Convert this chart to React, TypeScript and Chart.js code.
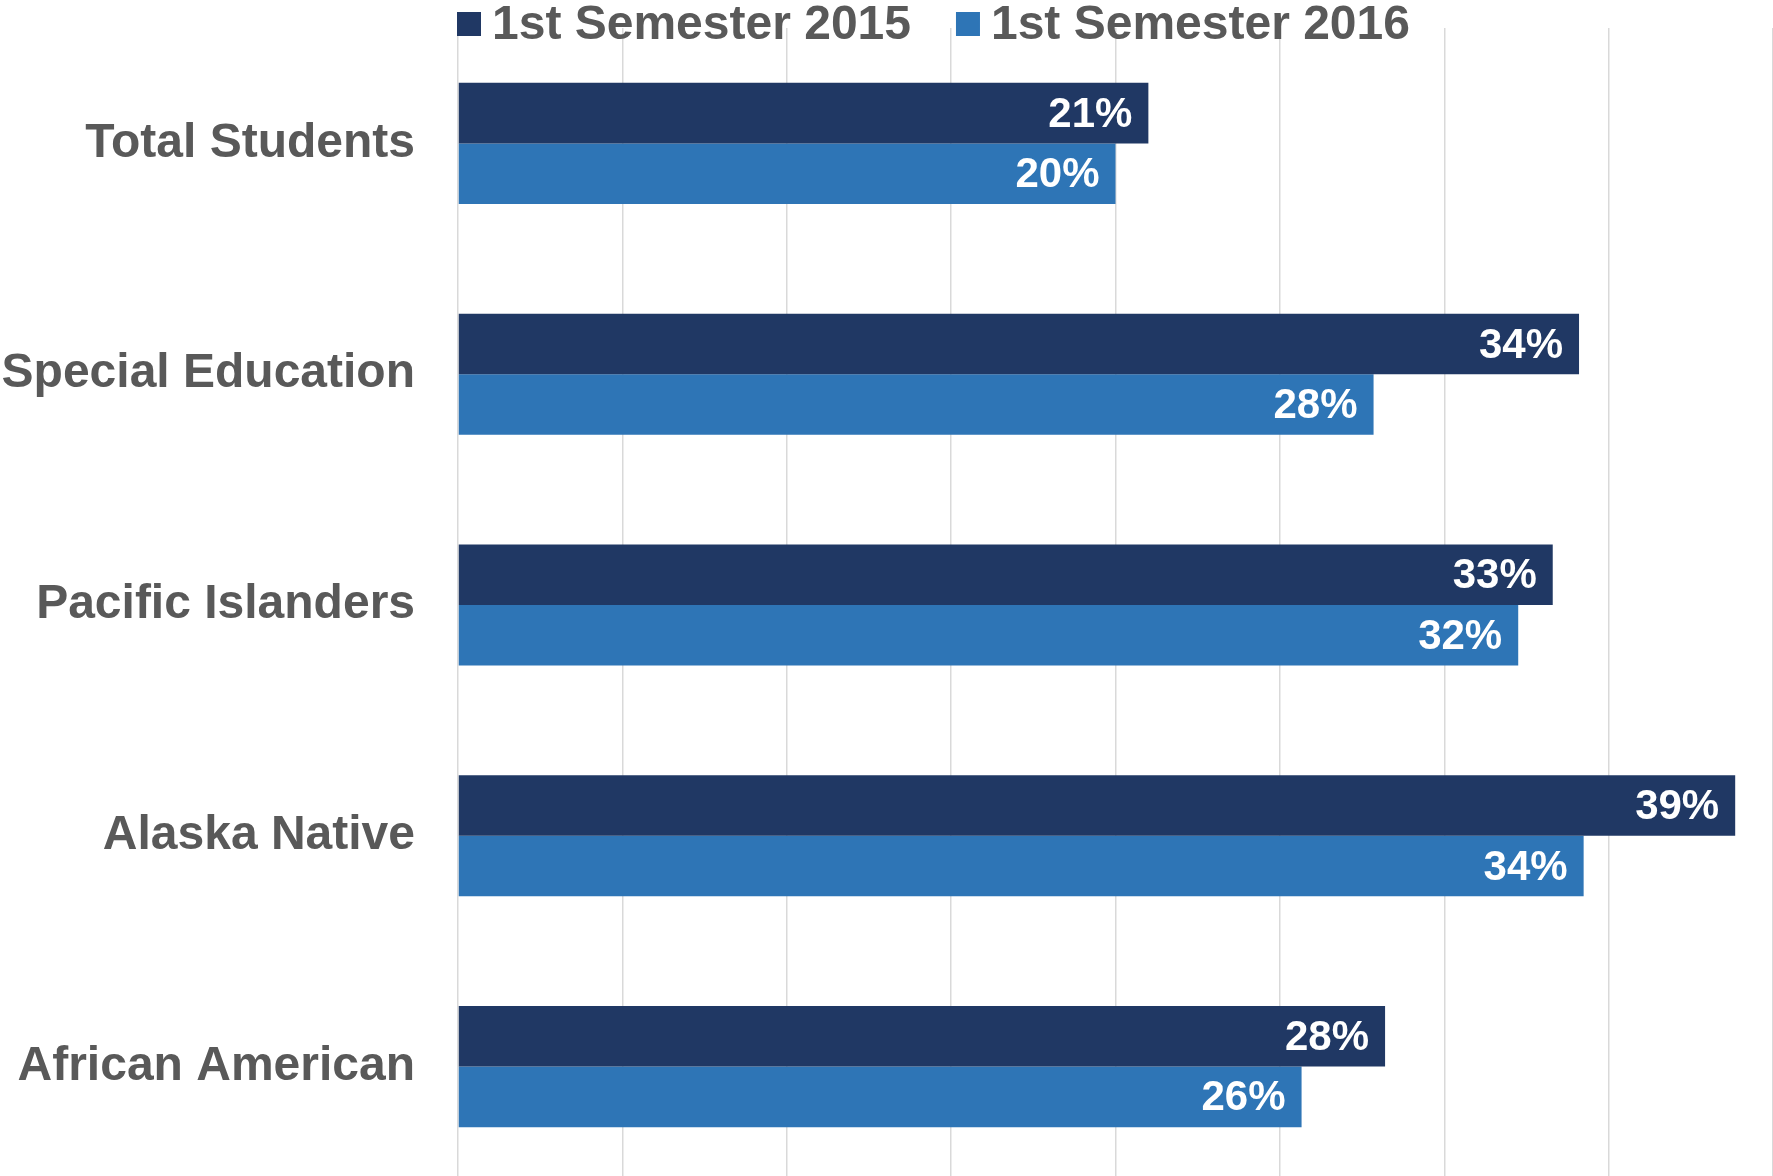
import React, { useEffect, useRef } from "react";
import { Chart, registerables } from "chart.js";

Chart.register(...registerables);

const categories = ["Total Students", "Special Education", "Pacific Islanders", "Alaska Native", "African American"];
const series2015 = [21.0, 34.1, 33.3, 38.85, 28.2];
const series2016 = [20.0, 27.85, 32.25, 34.24, 25.66];
const seriesLabels = ["1st Semester 2015", "1st Semester 2016"];
const xTicks = [0, 5, 10, 15, 20, 25, 30, 35, 40];

const FONT = '"Liberation Sans", Arial, sans-serif';
const GREY = "#595959";
const COLORS = ["#203864", "#2E75B6"];

const valueLabelPlugin = {
  id: "valueLabels",
  afterDatasetsDraw(chart: any) {
    const ctx = chart.ctx;
    ctx.save();
    ctx.font = `bold 42px ${FONT}`;
    ctx.fillStyle = "#ffffff";
    ctx.textAlign = "right";
    ctx.textBaseline = "middle";
    chart.data.datasets.forEach((ds: any, di: number) => {
      const meta = chart.getDatasetMeta(di);
      meta.data.forEach((el: any, i: number) => {
        const v = ds.data[i];
        ctx.fillText(`${Math.round(v)}%`, el.x - 16, el.y + 2);
      });
    });
    ctx.restore();
  },
};

const legendPlugin = {
  id: "customLegend",
  afterDraw(chart: any) {
    const ctx = chart.ctx;
    ctx.save();
    ctx.font = `bold 48px ${FONT}`;
    ctx.textBaseline = "alphabetic";
    ctx.textAlign = "left";
    let x = chart.chartArea.left - 1;
    chart.data.datasets.forEach((ds: any) => {
      ctx.fillStyle = ds.backgroundColor;
      ctx.fillRect(x, 12, 24, 24);
      ctx.fillStyle = GREY;
      ctx.fillText(ds.label, x + 35, 39);
      x += 35 + ctx.measureText(ds.label).width + 45;
    });
    ctx.restore();
  },
};

export default function App() {
  const ref = useRef<HTMLCanvasElement | null>(null);
  useEffect(() => {
    document.body.style.margin = "0";
    document.body.style.overflow = "hidden";
    const chart = new Chart(ref.current!, {
      type: "bar",
      data: {
        labels: categories,
        datasets: [
          { label: seriesLabels[0], data: series2015, backgroundColor: COLORS[0], categoryPercentage: 0.5245, barPercentage: 1 },
          { label: seriesLabels[1], data: series2016, backgroundColor: COLORS[1], categoryPercentage: 0.5245, barPercentage: 1 },
        ],
      },
      options: {
        indexAxis: "y",
        responsive: false,
        animation: false,
        layout: { padding: { top: 28, left: 0, right: 0, bottom: 0 } },
        plugins: { legend: { display: false }, tooltip: { enabled: false } },
        scales: {
          x: {
            min: 0,
            max: 40,
            afterBuildTicks: (s: any) => {
              s.ticks = xTicks.map((v) => ({ value: v }));
            },
            afterFit: (s: any) => {
              s.height = 0;
              s.paddingLeft = 0;
              s.paddingRight = 0;
            },
            ticks: { display: false },
            grid: { color: "#d9d9d9", lineWidth: 1.5, drawTicks: false },
            border: { display: false },
          },
          y: {
            afterFit: (s: any) => {
              s.width = 458;
              s.paddingTop = 0;
              s.paddingBottom = 0;
            },
            ticks: {
              color: GREY,
              font: { family: FONT, size: 48, weight: "bold" },
              padding: 43,
            },
            grid: { display: false, drawTicks: false },
            border: { display: false },
          },
        },
      },
      plugins: [valueLabelPlugin, legendPlugin],
    } as any);
    return () => chart.destroy();
  }, []);
  return <canvas ref={ref} width={1773} height={1182} style={{ display: "block" }} />;
}
